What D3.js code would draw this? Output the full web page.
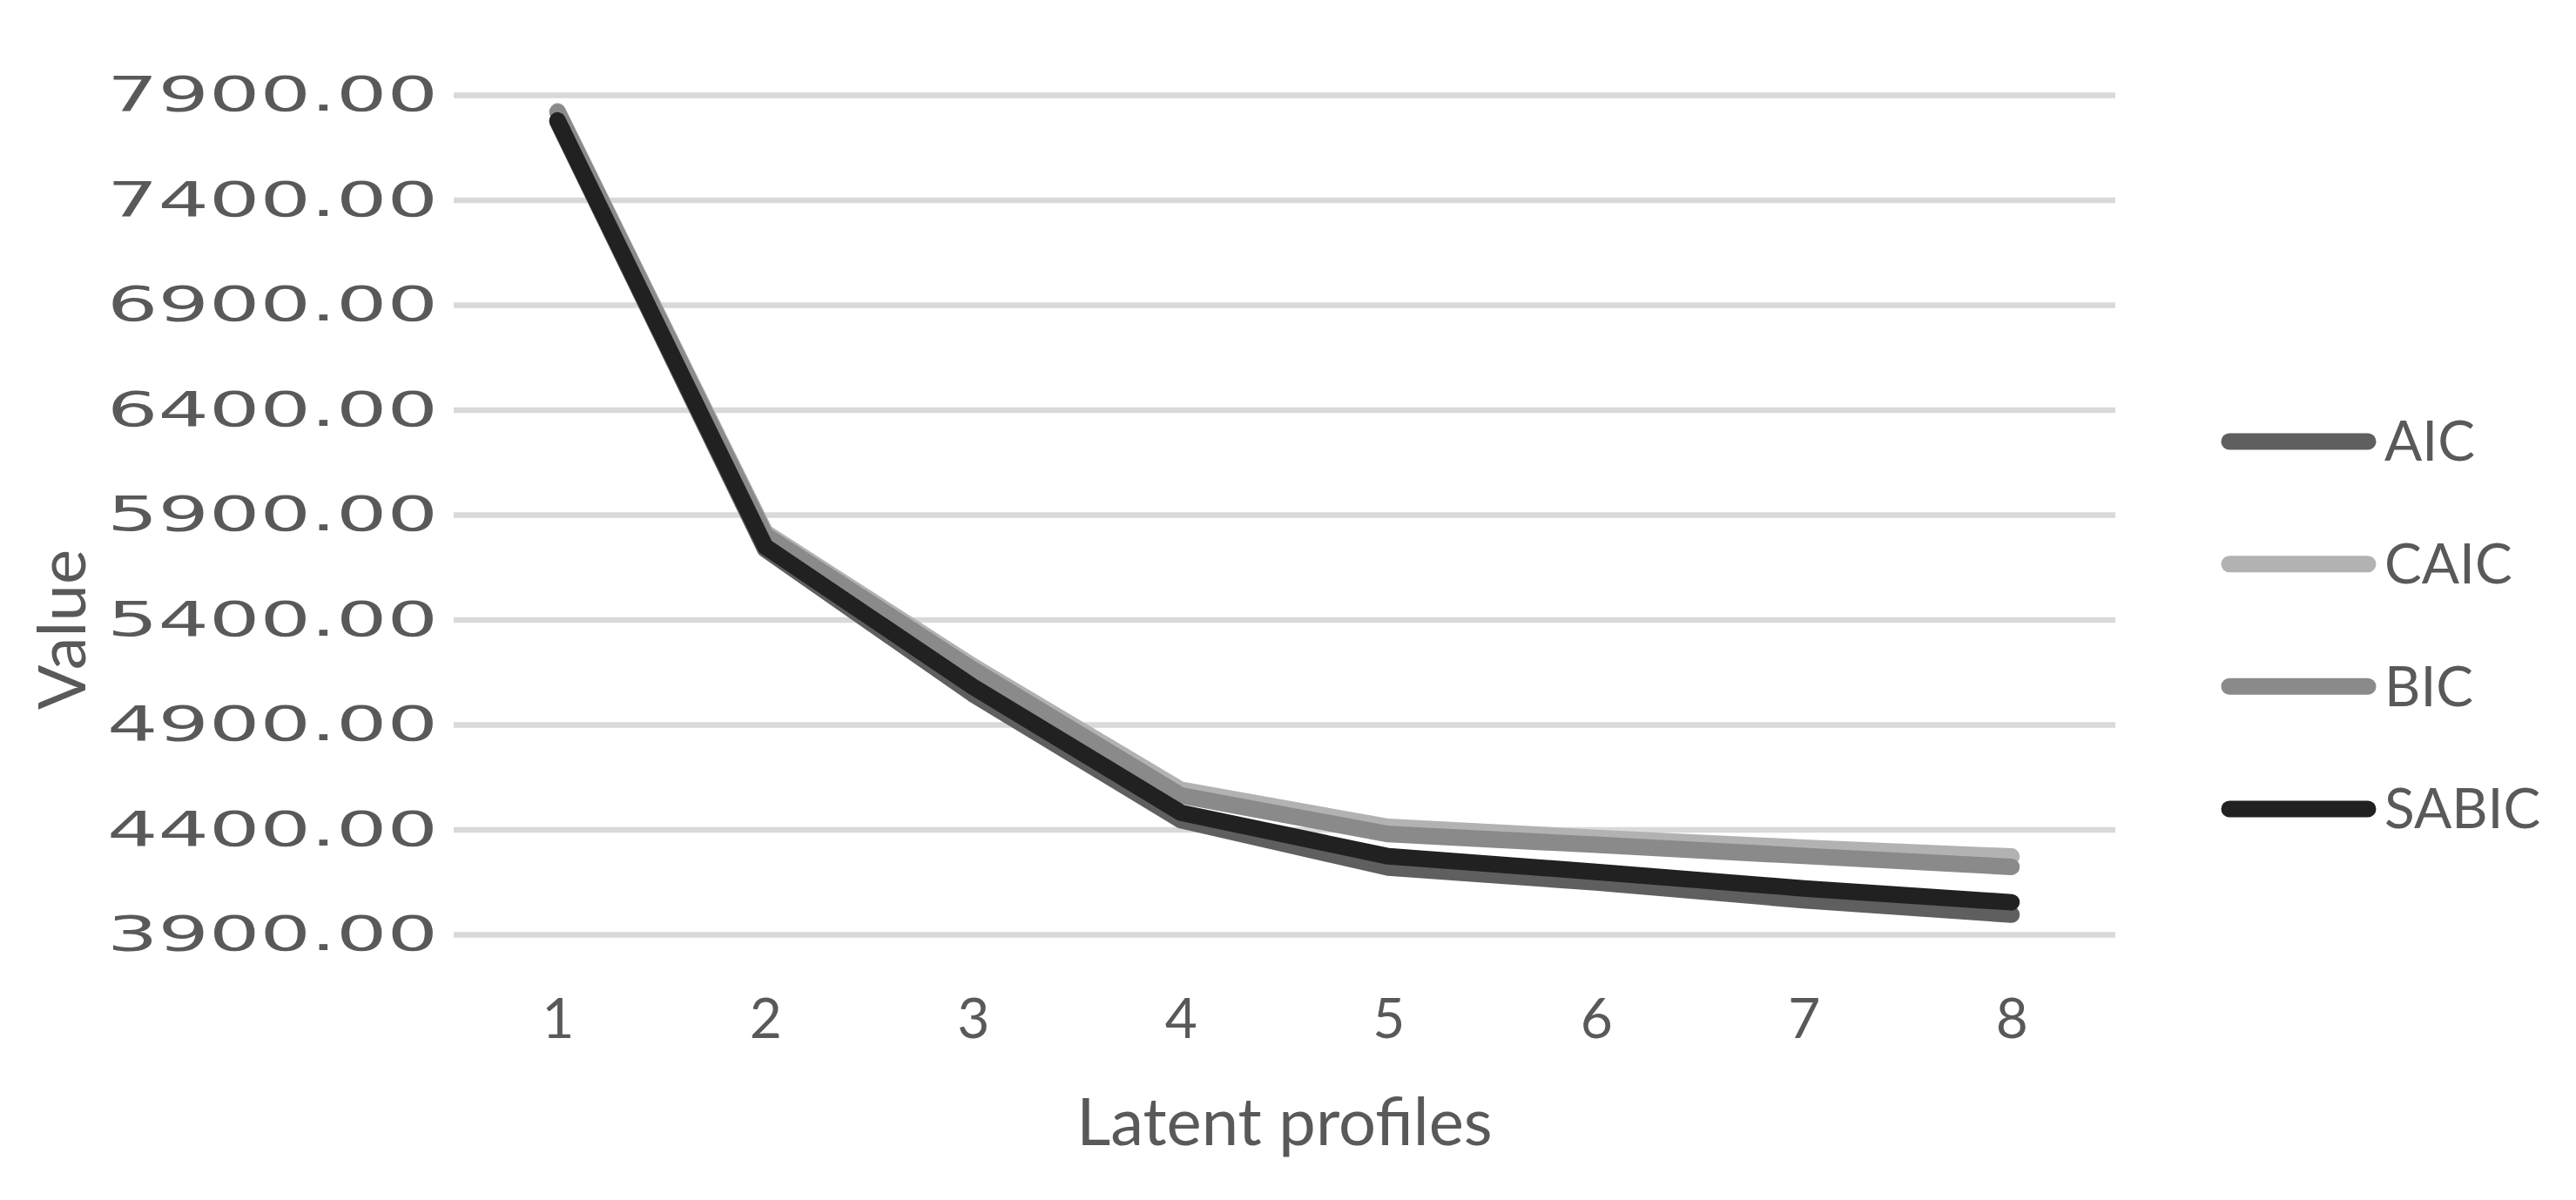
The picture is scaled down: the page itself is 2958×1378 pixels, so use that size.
<!DOCTYPE html>
<html>
<head>
<meta charset="utf-8">
<script src="https://cdn.jsdelivr.net/npm/d3@7"></script>
<style>
  html, body { margin: 0; padding: 0; background: #fff; }
  svg { display: block; }
</style>
</head>
<body>
<svg id="chart" width="2958" height="1378"></svg>
<script>
const categories = [1, 2, 3, 4, 5, 6, 7, 8];
const seriesNames = ["AIC", "CAIC", "BIC", "SABIC"];
const AIC   = [7772, 5735, 5045, 4445, 4218, 4148, 4063, 3994];
const CAIC  = [7822, 5815, 5178, 4589, 4412, 4360, 4313, 4271];
const BIC   = [7818, 5803, 5162, 4562, 4378, 4327, 4274, 4222];
const SABIC = [7778, 5748, 5080, 4480, 4272, 4198, 4119, 4053];
const yTicks = [3900, 4400, 4900, 5400, 5900, 6400, 6900, 7400, 7900];
const seriesColors = ["#5f5f5f", "#b2b2b2", "#8a8a8a", "#212121"];

const seriesData = [AIC, CAIC, BIC, SABIC];

const svg = d3.select("#chart");
const plot = { left: 521, right: 2429, top: 109, bottom: 1073 };
const textColor = "#595959";
const font = "Lato, 'Open Sans', sans-serif";

const x = d3.scalePoint().domain(categories).range([plot.left, plot.right]).padding(0.5);
const y = d3.scaleLinear().domain([3900, 7900]).range([plot.bottom, plot.top]);

// gridlines + y labels
const yAxis = d3.axisLeft(y)
  .tickValues(yTicks)
  .tickSize(-(plot.right - plot.left))
  .tickPadding(18)
  .tickFormat(d3.format(".2f"));
const gy = svg.append("g").attr("transform", `translate(${plot.left},0)`).call(yAxis);
gy.select(".domain").remove();
gy.selectAll(".tick line").attr("stroke", "#d9d9d9").attr("stroke-width", 6.5);
gy.selectAll(".tick text")
  .attr("fill", textColor)
  .attr("textLength", 380)
  .attr("lengthAdjust", "spacingAndGlyphs")
  .style("font-family", "'DejaVu Sans', Verdana, sans-serif")
  .style("font-size", "56px");

// x labels
const xAxis = d3.axisBottom(x).tickSize(0).tickPadding(0);
const gx = svg.append("g").attr("transform", `translate(0,1192)`).call(xAxis);
gx.select(".domain").remove();
gx.selectAll(".tick text")
  .attr("fill", textColor)
  .attr("dy", 0)
  .style("font-family", font)
  .style("font-size", "64px");

// lines
const line = d3.line().x((d, i) => x(categories[i])).y(d => y(d));
svg.append("g").selectAll("path")
  .data(seriesData)
  .join("path")
  .attr("d", d => line(d))
  .attr("fill", "none")
  .attr("stroke", (d, i) => seriesColors[i])
  .attr("stroke-width", 19)
  .attr("stroke-linecap", "round")
  .attr("stroke-linejoin", "round");

// axis titles
svg.append("text")
  .attr("x", 1475).attr("y", 1315)
  .attr("text-anchor", "middle")
  .attr("fill", textColor)
  .style("font-family", font)
  .style("font-size", "76px")
  .text("Latent profiles");

svg.append("text")
  .attr("transform", "translate(98,723) rotate(-90)")
  .attr("text-anchor", "middle")
  .attr("fill", textColor)
  .style("font-family", font)
  .style("font-size", "76px")
  .text("Value");

// legend
const legendY = d3.scalePoint().domain(seriesNames).range([507, 929]);
const lg = svg.append("g").selectAll("g")
  .data(seriesNames)
  .join("g")
  .attr("transform", d => `translate(0,${legendY(d)})`);
lg.append("line")
  .attr("x1", 2560).attr("x2", 2719)
  .attr("y1", 0).attr("y2", 0)
  .attr("stroke", (d, i) => seriesColors[i])
  .attr("stroke-width", 19)
  .attr("stroke-linecap", "round");
lg.append("text")
  .attr("x", 2738).attr("y", 0)
  .attr("dy", "0.35em")
  .attr("fill", textColor)
  .style("font-family", font)
  .style("font-size", "64px")
  .text(d => d);
</script>
</body>
</html>
